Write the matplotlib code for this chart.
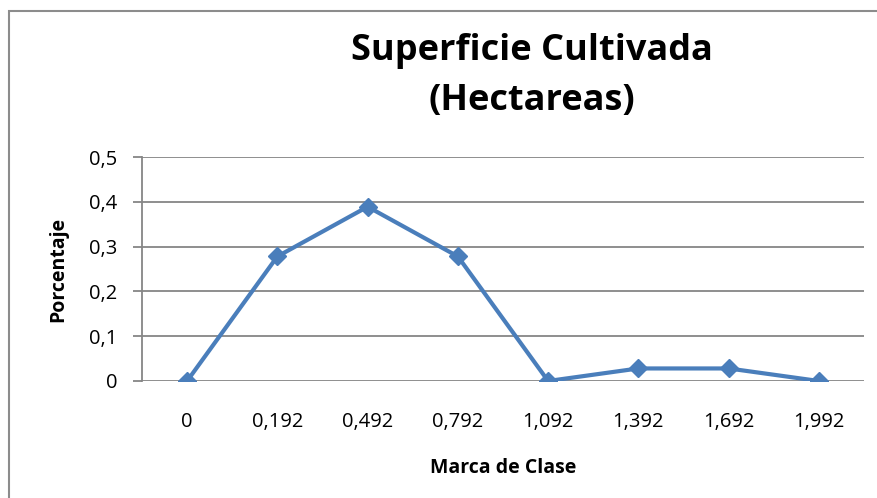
import matplotlib.pyplot as plt
from matplotlib.patches import Rectangle

# data
marcas = ["0", "0,192", "0,492", "0,792", "1,092", "1,392", "1,692", "1,992"]
porcentaje = [0, 0.278, 0.389, 0.278, 0, 0.028, 0.028, 0]
y_ticks = [0, 0.1, 0.2, 0.3, 0.4, 0.5]
y_labels = ["0", "0,1", "0,2", "0,3", "0,4", "0,5"]

plt.rcParams['font.family'] = ['Open Sans', 'DejaVu Sans']

W, H = 878, 498
fig = plt.figure(figsize=(W / 100, H / 100), dpi=100)

# outer chart frame (runs off the right/bottom edge)
fig.patches.append(Rectangle((9 / W, -0.05), 1.2, 1 - 11 / H + 0.05,
                             transform=fig.transFigure, fill=False,
                             edgecolor="#8c8c8c", linewidth=1.5))

ax = fig.add_axes([142 / W, 1 - 381 / H, (864 - 142) / W, (381 - 157) / H])

x = list(range(len(marcas)))
ax.plot(x, porcentaje, color="#4a7ebb", linewidth=3, marker="D",
        markersize=9.5, markerfacecolor="#4a7ebb", markeredgecolor="#4a7ebb")

ax.set_xlim(-0.5, len(marcas) - 0.5)
ax.set_ylim(0, 0.5)
ax.set_yticks(y_ticks)
ax.set_yticklabels(y_labels)
ax.set_xticks(x)
ax.set_xticklabels(marcas)

ax.grid(axis="y", color="#868686", linewidth=1.3)
ax.set_axisbelow(True)
for s in ["top", "right", "bottom"]:
    ax.spines[s].set_visible(False)
ax.spines["left"].set_color("#868686")
ax.spines["left"].set_linewidth(1.3)

ax.tick_params(axis="y", length=6.5, width=1.3, color="#868686", pad=11,
               labelsize=14.5)
ax.tick_params(axis="x", length=0, pad=22, labelsize=14.5)

ax.set_ylabel("Porcentaje", fontsize=14, fontweight="bold", labelpad=15)
ax.set_xlabel("Marca de Clase", fontsize=14, fontweight="bold", labelpad=19)

fig.text(532 / W, 1 - 76 / H, "Superficie Cultivada\n(Hectareas)",
         ha="center", va="center", fontsize=26, fontweight="bold",
         linespacing=1.55)

fig.savefig("out.png", dpi=100)
